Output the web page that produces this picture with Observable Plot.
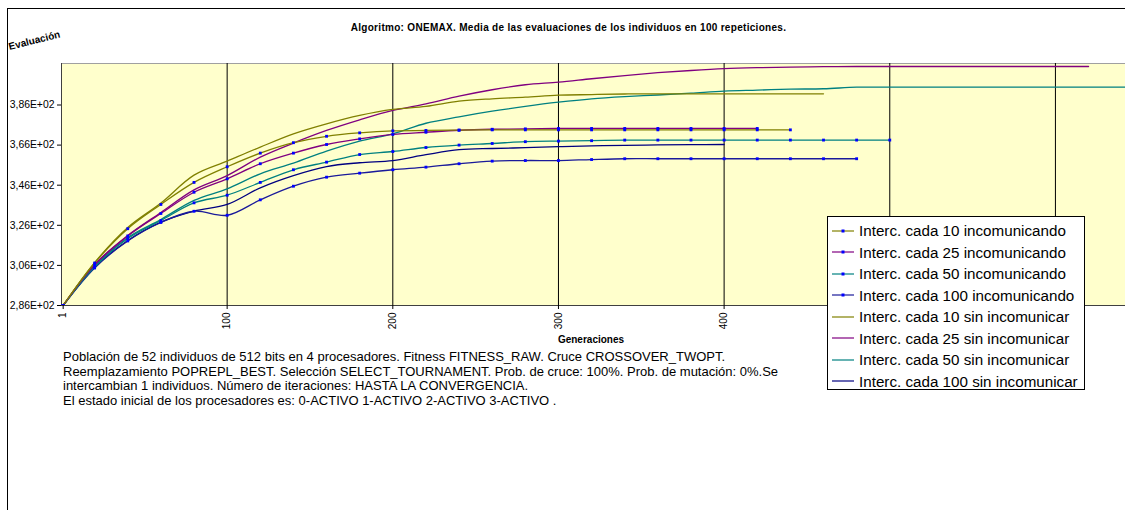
<!DOCTYPE html>
<html><head><meta charset="utf-8">
<script src="https://cdn.jsdelivr.net/npm/d3@7"></script>
<script src="https://cdn.jsdelivr.net/npm/@observablehq/plot@0.6"></script>
<style>
body{margin:0;background:#fff;font-family:"Liberation Sans",Arial,sans-serif;color:#000;}
#root{position:relative;width:1125px;height:510px;overflow:hidden;background:#fff;}
#frame{position:absolute;left:7px;top:8px;width:1300px;height:700px;border-left:1px solid #000;border-top:1px solid #000;}
#title{position:absolute;left:0;top:22px;width:1137px;text-align:center;font-weight:bold;font-size:10px;letter-spacing:0.3px;}
#ylab{position:absolute;left:10px;top:41px;font-weight:bold;font-size:10px;transform:rotate(-14deg);transform-origin:0 100%;white-space:nowrap;}
#xlab{position:absolute;left:491px;width:200px;top:334px;text-align:center;font-weight:bold;font-size:10px;}
#caption{position:absolute;left:63px;top:350px;font-size:13px;line-height:14.7px;white-space:nowrap;}
#legend{position:absolute;left:827px;top:216px;width:258px;height:174px;border:1px solid #000;background:#fff;box-sizing:border-box;padding-top:3px;}
.lrow{height:21.5px;display:flex;align-items:center;font-size:15.2px;white-space:nowrap;}
.lrow svg{margin-left:4px;margin-right:5px;flex:none;}
#plot{position:absolute;left:0;top:0;}
</style></head><body><div id="root">
<div id="frame"></div>
<div id="plot"></div>
<div id="title"></div>
<div id="ylab"></div>
<div id="xlab"></div>
<div id="caption"></div>
<div id="legend"></div>
</div>
<script>
// ---- data ----
const titleText = "Algoritmo: ONEMAX. Media de las evaluaciones de los individuos en 100 repeticiones.";
const yTitle = "Evaluación";
const xTitle = "Generaciones";
const captionLines = [
  "Población de 52 individuos de 512 bits en 4 procesadores. Fitness FITNESS_RAW. Cruce CROSSOVER_TWOPT.",
  "Reemplazamiento POPREPL_BEST. Selección SELECT_TOURNAMENT. Prob. de cruce: 100%. Prob. de mutación: 0%.Se",
  "intercambian 1 individuos. Número de iteraciones: HASTA LA CONVERGENCIA.",
  "El estado inicial de los procesadores es: 0-ACTIVO 1-ACTIVO 2-ACTIVO 3-ACTIVO ."
];

const gens = [1,20,40,60,80,100,120,140,160,180,200,220,240,260,280,300,320,340,360,380,400,420,440,460,480,500,520,540,560,580,600,620,640,660];

const inc10  = [286.0,307.2,324.3,336.4,347.4,355.2,362.0,367.2,370.4,372.1,373.1,373.3,373.5,373.6,373.6,373.6,373.6,373.6,373.6,373.6,373.6,373.6,373.6];
const inc25  = [286.0,306.2,320.7,331.9,342.5,349.2,356.7,362.0,366.3,369.1,371.3,372.4,373.4,373.9,374.1,374.3,374.3,374.3,374.3,374.3,374.3,374.3];
const inc50  = [286.0,305.2,319.4,328.4,337.2,341.0,347.4,353.7,357.5,361.3,362.8,364.8,366.0,366.8,367.7,368.0,368.2,368.5,368.5,368.5,368.5,368.5,368.5,368.5,368.5,368.5];
const inc100 = [286.0,304.7,318.2,327.4,333.0,331.0,338.7,345.5,350.0,352.0,353.7,355.0,356.7,358.0,358.3,358.3,358.8,359.2,359.2,359.2,359.2,359.2,359.2,359.2,359.2];
const sin10  = [286.0,307.4,324.9,337.1,351.0,358.0,365.0,371.6,376.6,380.8,383.8,385.3,387.9,389.1,389.9,390.9,391.2,391.5,391.6,391.6,391.6,391.6,391.6,391.6];
const sin25  = [286.0,306.5,320.9,332.4,343.7,350.8,360.0,367.0,373.3,378.6,383.3,386.6,390.4,393.6,396.1,397.4,399.1,400.7,402.1,403.2,404.1,404.6,404.9,405.1,405.2,405.2,405.2,405.2,405.2,405.2,405.2,405.2];
const sin50  = [286.0,305.5,319.9,328.9,338.4,344.2,351.7,357.0,363.0,368.0,371.6,376.9,380.1,382.9,385.3,387.4,389.1,390.2,391.0,391.9,392.9,393.4,393.9,394.1,394.9,394.9,394.9,394.9,394.9,394.9,394.9,394.9,394.9,394.9];
const sin100 = [286.0,305.0,318.4,327.6,333.1,336.4,344.7,350.8,355.3,357.2,358.3,361.2,363.7,364.3,364.7,365.2,365.6,365.9,366.1,366.2,366.3];

const seriesNames = [
  "Interc. cada 10 incomunicando","Interc. cada 25 incomunicando","Interc. cada 50 incomunicando","Interc. cada 100 incomunicando",
  "Interc. cada 10 sin incomunicar","Interc. cada 25 sin incomunicar","Interc. cada 50 sin incomunicar","Interc. cada 100 sin incomunicar"
];
const seriesValues = [inc10, inc25, inc50, inc100, sin10, sin25, sin50, sin100];
const seriesColors = ["#808000","#800080","#008080","#1a1a9a","#808000","#800080","#008080","#000080"];
const seriesMarked = [true,true,true,true,false,false,false,false];
const markerColor = "#0000ff";

const xTicks = [1,100,200,300,400,500,600];
const xTickLabels = ["1","100","200","300","400","500","600"];
const gridX = [100,200,300,400,500,600];
const yTicks = [286,306,326,346,366,386];
const yTickLabels = ["2,86E+02","3,06E+02","3,26E+02","3,46E+02","3,66E+02","3,86E+02"];

// ---- build ----
const series = seriesNames.map((name, i) => ({
  name, color: seriesColors[i], marked: seriesMarked[i],
  rows: seriesValues[i].map((v, j) => ({gen: gens[j], value: v, series: name}))
}));
const xLab = new Map(xTicks.map((t, i) => [t, xTickLabels[i]]));
const yLab = new Map(yTicks.map((t, i) => [t, yTickLabels[i]]));

const marks = [
  Plot.frame({fill: "#ffffcc", stroke: "#a0a0a0"}),
  Plot.ruleX(gridX, {stroke: "#000", strokeWidth: 1}),
  Plot.ruleX([0], {stroke: "#404040"}),
  Plot.ruleY([286], {stroke: "#404040"}),
];
[...series].reverse().forEach(s => {
  marks.push(Plot.line(s.rows, {x: "gen", y: "value", stroke: s.color, strokeWidth: 1.3, curve: "catmull-rom", clip: true}));
});
series.filter(s => s.marked).forEach(s => {
  marks.push(Plot.dot(s.rows, {x: "gen", y: "value", symbol: "square", r: 1.6, fill: markerColor, stroke: null, clip: true}));
});
marks.push(Plot.axisX(xTicks, {tickFormat: d => xLab.get(d), tickRotate: -90, tickSize: 4, tickPadding: 3, fontSize: 10, label: null}));
marks.push(Plot.axisY(yTicks, {tickFormat: d => yLab.get(d), tickSize: 4, tickPadding: 3, fontSize: 10.4, label: null}));

const chart = Plot.plot({
  width: 1125, height: 360,
  marginLeft: 61, marginRight: 0, marginTop: 63, marginBottom: 55,
  x: {type: "linear", domain: [0, 642.3]},
  y: {type: "linear", domain: [286, 406.7]},
  style: {fontFamily: "'Liberation Sans', Arial, sans-serif", background: "transparent", color: "#000", overflow: "visible"},
  marks
});
document.getElementById("plot").appendChild(chart);

document.getElementById("title").textContent = titleText;
document.getElementById("ylab").textContent = yTitle;
document.getElementById("xlab").textContent = xTitle;
document.getElementById("caption").innerHTML = captionLines.map(l => `<div>${l}</div>`).join("");

const legend = document.getElementById("legend");
series.forEach(s => {
  const row = document.createElement("div");
  row.className = "lrow";
  row.innerHTML = `<svg width="22" height="8"><line x1="0" x2="22" y1="4" y2="4" stroke="${s.color}" stroke-opacity="0.6" stroke-width="2"/>` +
    (s.marked ? `<rect x="9.5" y="2.5" width="3" height="3" fill="${markerColor}"/>` : "") +
    `</svg><span>${s.name}</span>`;
  legend.appendChild(row);
});
</script></body></html>
